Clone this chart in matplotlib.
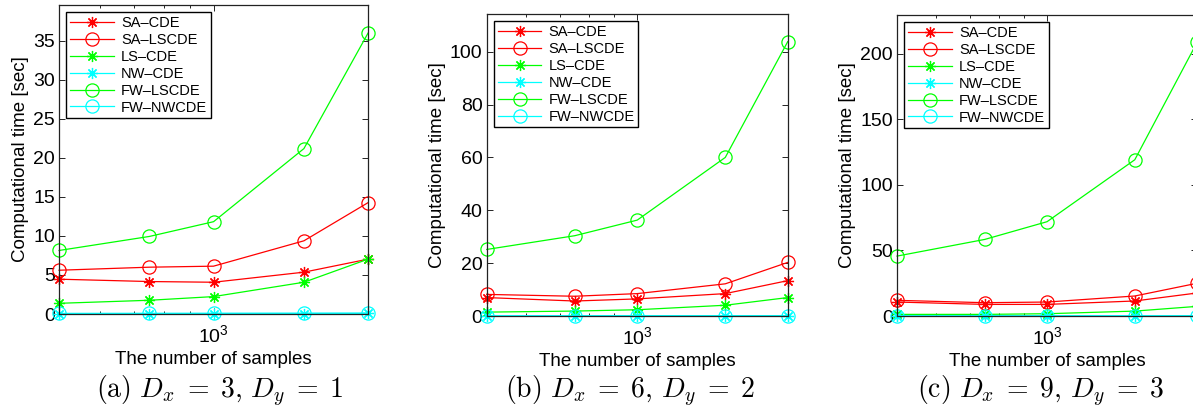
import matplotlib
matplotlib.use("Agg")
import matplotlib.pyplot as plt
from matplotlib.ticker import MultipleLocator, LogLocator, NullFormatter

plt.rcParams["font.family"] = ["Liberation Sans", "DejaVu Sans"]
plt.rcParams["mathtext.fontset"] = "cm"

n_samples = [500, 750, 1000, 1500, 2000]
method_names = ["SA\u2013CDE", "SA\u2013LSCDE", "LS\u2013CDE", "NW\u2013CDE", "FW\u2013LSCDE", "FW\u2013NWCDE"]

# (a) Dx=3, Dy=1
sa_cde_a = [4.46, 4.16, 4.07, 5.36, 7.03]
sa_lscde_a = [5.61, 6.0, 6.13, 9.38, 14.27]
ls_cde_a = [1.37, 1.76, 2.23, 4.07, 7.03]
nw_cde_a = [0.04, 0.05, 0.05, 0.06, 0.07]
fw_lscde_a = [8.14, 9.94, 11.83, 21.2, 36.0]
fw_nwcde_a = [0.08, 0.09, 0.1, 0.11, 0.12]

# (b) Dx=6, Dy=2
sa_cde_b = [7.0, 5.7, 6.5, 8.5, 13.4]
sa_lscde_b = [8.2, 7.5, 8.5, 12.2, 20.3]
ls_cde_b = [1.5, 1.9, 2.4, 4.1, 7.0]
nw_cde_b = [0.06, 0.07, 0.08, 0.09, 0.1]
fw_lscde_b = [25.2, 30.4, 36.3, 60.0, 103.8]
fw_nwcde_b = [0.1, 0.12, 0.14, 0.16, 0.18]

# (c) Dx=9, Dy=3
sa_cde_c = [10.7, 8.9, 8.9, 11.5, 17.6]
sa_lscde_c = [12.0, 10.2, 10.7, 15.3, 25.0]
ls_cde_c = [1.3, 1.3, 1.8, 3.8, 7.4]
nw_cde_c = [0.1, 0.12, 0.14, 0.16, 0.18]
fw_lscde_c = [45.7, 58.4, 71.9, 119.1, 208.5]
fw_nwcde_c = [0.15, 0.18, 0.2, 0.23, 0.26]

captions = [r"$\mathrm{(a)}\ D_x\;=\;3,\,D_y\;=\;1$",
            r"$\mathrm{(b)}\ D_x\;=\;6,\,D_y\;=\;2$",
            r"$\mathrm{(c)}\ D_x\;=\;9,\,D_y\;=\;3$"]
y_steps = [5, 20, 50]

panels = [
    [sa_cde_a, sa_lscde_a, ls_cde_a, nw_cde_a, fw_lscde_a, fw_nwcde_a],
    [sa_cde_b, sa_lscde_b, ls_cde_b, nw_cde_b, fw_lscde_b, fw_nwcde_b],
    [sa_cde_c, sa_lscde_c, ls_cde_c, nw_cde_c, fw_lscde_c, fw_nwcde_c],
]

star = (8, 2, 0)
styles = [
    ("#ff0000", star, 8),
    ("#ff0000", "o", 9.5),
    ("#00ff00", star, 8),
    ("#00ffff", star, 8),
    ("#00ff00", "o", 9.5),
    ("#00ffff", "o", 9.5),
]

positions = [
    [0.0495, 0.247, 0.259, 0.741],
    [0.408, 0.242, 0.2523, 0.724],
    [0.7519, 0.242, 0.2515, 0.722],
]
caption_x = [220 / 1193, 630 / 1193, 1041 / 1193]

fig = plt.figure(figsize=(11.93, 4.17), dpi=100)

for i, series in enumerate(panels):
    ax = fig.add_axes(positions[i])
    for name, vals, (c, m, ms) in zip(method_names, series, styles):
        ax.plot(n_samples, vals, color=c, marker=m, markersize=ms,
                markerfacecolor="none", markeredgecolor=c, markeredgewidth=0.9,
                linewidth=0.9, label=name, clip_on=False)
    ax.set_xscale("log")
    ax.set_xlim(500, 2000)
    top = max(max(v) for v in series) * 1.1
    ax.set_ylim(0, top)
    ax.yaxis.set_major_locator(MultipleLocator(y_steps[i]))
    ax.xaxis.set_major_locator(LogLocator(base=10))
    ax.xaxis.set_minor_locator(LogLocator(base=10, subs=range(2, 10)))
    ax.xaxis.set_minor_formatter(NullFormatter())
    ax.tick_params(which="both", direction="in", top=True, right=True, labelsize=14)
    ax.tick_params(which="major", length=4, width=0.6, pad=3)
    ax.tick_params(axis="x", which="major", pad=7)
    ax.tick_params(which="minor", length=2.5, width=0.6)
    for sp in ax.spines.values():
        sp.set_linewidth(0.9)
        sp.set_color("#222222")
    ax.set_xlabel("The number of samples", fontsize=13.5, labelpad=4)
    ax.set_ylabel("Computational time [sec]", fontsize=13.5, labelpad=3)
    leg = ax.legend(loc="upper left", fontsize=10.5, handlelength=3.0,
                    labelspacing=0.2, borderpad=0.25, handletextpad=0.5,
                    fancybox=False, framealpha=1, borderaxespad=0.5)
    leg.get_frame().set_edgecolor("black")
    leg.get_frame().set_linewidth(1.0)
    fig.text(caption_x[i], 0.062, captions[i], ha="center", va="center", fontsize=20)

fig.savefig("out.png", dpi=100)
